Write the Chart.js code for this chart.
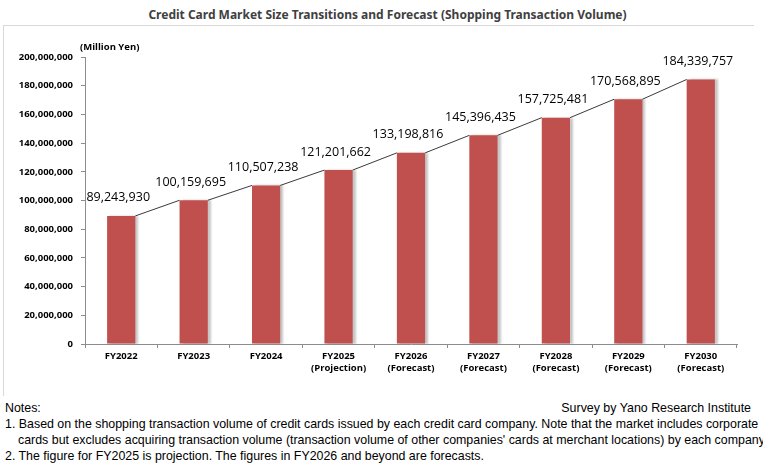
<!DOCTYPE html>
<html>
<head>
<meta charset="utf-8">
<script src="https://cdn.jsdelivr.net/npm/chart.js@4.4.1/dist/chart.umd.min.js"></script>
<style>
    body { margin: 0; background: #fff; width: 763px; height: 465px; overflow: hidden; position: relative; font-family: "Open Sans", sans-serif; }
    #frame { position: absolute; left: 3px; top: 25px; width: 750px; height: 370px; border-left: 1px solid #d9d9d9; border-top: 1px solid #d9d9d9; }
    #title { position: absolute; left: 0; width: 775px; top: 6px; text-align: center; font-weight: 700; font-size: 12px; color: #404040; font-family: "Noto Sans", sans-serif; }
    #unit { position: absolute; left: 80px; top: 40px; font-weight: bold; font-size: 9.5px; color: #000; font-family: "Open Sans", sans-serif; }
    #chartBox { position: absolute; left: 0; top: 0; width: 763px; height: 395px; }
    .note { position: absolute; white-space: nowrap; font-size: 12.4px; color: #000; font-family: "Liberation Sans", sans-serif; }
</style>
</head>
<body>
<div id="frame"></div>
<div id="title">Credit Card Market Size Transitions and Forecast (Shopping Transaction Volume)</div>
<div id="chartBox"><canvas id="marketChart" width="763" height="395"></canvas></div>
<div id="unit">(Million Yen)</div>
<div class="note" style="left:5px; top:401px;">Notes:</div>
<div class="note" style="right:12px; top:401px;">Survey by Yano Research Institute</div>
<div class="note" style="left:5px; top:417px;">1. Based on the shopping transaction volume of credit cards issued by each credit card company. Note that the market includes corporate</div>
<div class="note" style="left:18px; top:433px;">cards but excludes acquiring transaction volume (transaction volume of other companies' cards at merchant locations) by each company.</div>
<div class="note" style="left:5px; top:449px;">2. The figure for FY2025 is projection. The figures in FY2026 and beyond are forecasts.</div>

<script>
var fiscalYears = ['FY2022', 'FY2023', 'FY2024', 'FY2025', 'FY2026', 'FY2027', 'FY2028', 'FY2029', 'FY2030'];
var yearNotes = ['', '', '', '(Projection)', '(Forecast)', '(Forecast)', '(Forecast)', '(Forecast)', '(Forecast)'];
var marketSize = [89243930, 100159695, 110507238, 121201662, 133198816, 145396435, 157725481, 170568895, 184339757];
var yTicks = [0, 20000000, 40000000, 60000000, 80000000, 100000000, 120000000, 140000000, 160000000, 180000000, 200000000];

function withCommas(n) {
    return n.toString().replace(/\B(?=(\d{3})+(?!\d))/g, ',');
}

// x labels: year plus the note line underneath where there is one
var xLabels = fiscalYears.map(function (y, i) {
    return yearNotes[i] ? [y, yearNotes[i]] : y;
});

// soft grey shadow to the right of each bar
var barShadow = {
    id: 'barShadow',
    beforeDatasetDraw: function (chart) {
        var ctx = chart.ctx;
        ctx.save();
        ctx.shadowColor = 'rgba(0,0,0,0.22)';
        ctx.shadowOffsetX = 3;
        ctx.shadowOffsetY = 0;
        ctx.shadowBlur = 2;
    },
    afterDatasetDraw: function (chart) {
        chart.ctx.restore();
    }
};

// series lines between bar tops plus value labels
var seriesLines = {
    id: 'seriesLines',
    afterDatasetsDraw: function (chart) {
        var ctx = chart.ctx;
        var bars = chart.getDatasetMeta(0).data;
        ctx.save();
        ctx.strokeStyle = '#3a3a3a';
        ctx.lineWidth = 1;
        for (var i = 0; i < bars.length - 1; i++) {
            var a = bars[i], b = bars[i + 1];
            ctx.beginPath();
            ctx.moveTo(a.x + a.width / 2, a.y);
            ctx.lineTo(b.x - b.width / 2, b.y);
            ctx.stroke();
        }
        ctx.fillStyle = '#000';
        ctx.font = '12.5px "Open Sans", sans-serif';
        ctx.textAlign = 'center';
        ctx.textBaseline = 'middle';
        bars.forEach(function (bar, i) {
            ctx.fillText(withCommas(marketSize[i]), bar.x - 3, bar.y - 18);
        });
        ctx.restore();
    }
};

var ctx = document.getElementById('marketChart').getContext('2d');
var chart = new Chart(ctx, {
    type: 'bar',
    data: {
        labels: xLabels,
        datasets: [{
            data: marketSize,
            backgroundColor: '#c0504d',
            borderWidth: 0,
            barPercentage: 0.39,
            categoryPercentage: 1.0
        }]
    },
    options: {
        responsive: false,
        animation: false,
        layout: { padding: { top: 57, right: 26, left: 0, bottom: 0 } },
        plugins: {
            legend: { display: false },
            tooltip: { enabled: false }
        },
        scales: {
            x: {
                grid: { display: true, drawOnChartArea: false, color: '#8c8c8c', tickLength: 4, offset: true },
                border: { color: '#8c8c8c' },
                ticks: {
                    color: '#000',
                    font: { family: '"Open Sans", sans-serif', size: 9.5, weight: 'bold' },
                    padding: 3,
                    maxRotation: 0,
                    autoSkip: false
                },
                afterFit: function (scale) { scale.height = 51; }
            },
            y: {
                min: 0,
                max: 200000000,
                afterBuildTicks: function (scale) {
                    scale.ticks = yTicks.map(function (v) { return { value: v }; });
                },
                grid: { display: true, drawOnChartArea: false, color: '#8c8c8c', tickLength: 4 },
                border: { color: '#8c8c8c' },
                ticks: {
                    color: '#000',
                    font: { family: '"Open Sans", sans-serif', size: 9.5, weight: 'bold' },
                    padding: 8,
                    callback: function (v) { return withCommas(v); }
                },
                afterFit: function (scale) { scale.width = 85; }
            }
        }
    },
    plugins: [barShadow, seriesLines]
});
</script>
</body>
</html>
